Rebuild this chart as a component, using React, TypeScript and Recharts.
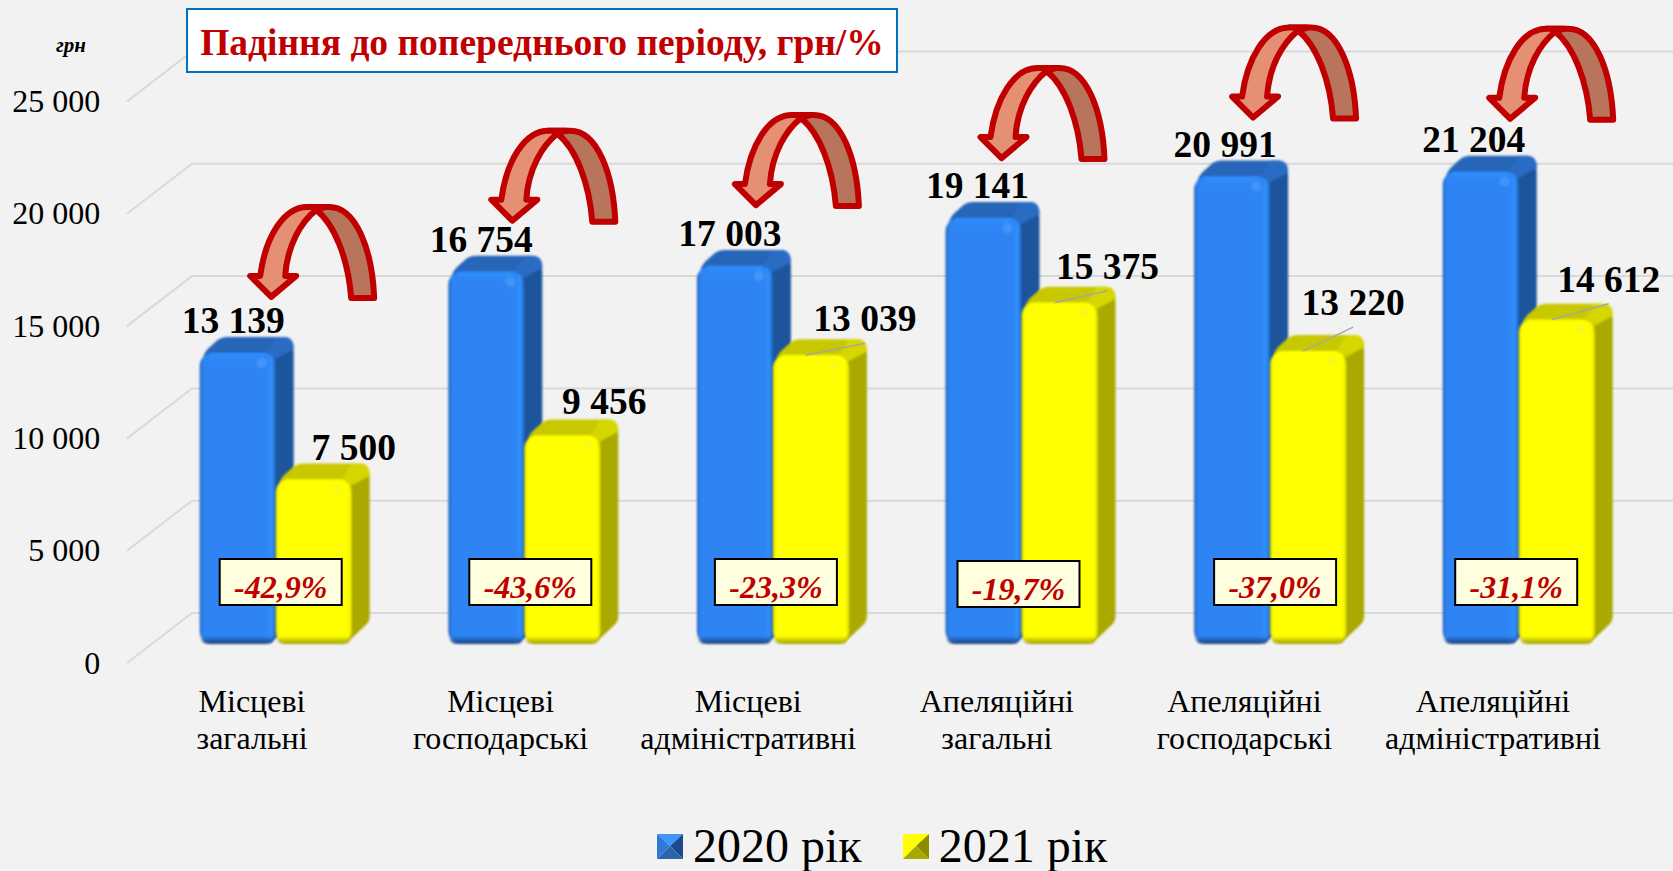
import { Bar, BarChart, CartesianGrid, LabelList, Legend, XAxis, YAxis } from 'recharts'

const CATEGORIES = [
  'Місцеві загальні',
  'Місцеві господарські',
  'Місцеві адміністративні',
  'Апеляційні загальні',
  'Апеляційні господарські',
  'Апеляційні адміністративні',
]
const VALUES_2020 = [13139, 16754, 17003, 19141, 20991, 21204]
const VALUES_2021 = [7500, 9456, 13039, 15375, 13220, 14612]
const DROP_LABELS = ['-42,9%', '-43,6%', '-23,3%', '-19,7%', '-37,0%', '-31,1%']
const Y_TICKS = [0, 5000, 10000, 15000, 20000, 25000]

// hand placement of the annotations, same order as CATEGORIES
const CATEGORY_NUDGE = [-24, -24, -25, -25, -26, -26]
const LABEL_NUDGE_2020 = [-4.5, -5, -5, -6, -7, -7]
const LABEL_NUDGE_2021 = [
  [40, 16],
  [42, 17.5],
  [54, 20],
  [48, 20],
  [45, 32],
  [52, 24],
]
const LEADER_2021 = [false, false, true, true, true, true]
const ARROW_NUDGE = [
  [33.5, 49],
  [26, 44],
  [21, 54],
  [18, 53],
  [21, 52],
  [29.5, 46],
]
const BOX_NUDGE = [
  [5, 85],
  [6, 85],
  [3, 85],
  [-3, 83],
  [5, 85],
  [-2.5, 85],
]

const FONT = '"Liberation Serif", "Times New Roman", serif'
const RED = '#c00000'
const DEPTH_X = 18
const DEPTH_Y = 16

const data = CATEGORIES.map((name, i) => ({ name, y2020: VALUES_2020[i], y2021: VALUES_2021[i] }))

const BLUE = { id: 'blue', top: '#2565b8', corner: '#2a6cc4', side: '#1c549c', edge: '#2263bc', main: '#2e84f3', light: '#3090ff', bottom: '#173f78', spot: '#5aa8ff' }
const YELLOW = { id: 'yellow', top: '#c8c800', corner: '#d6d600', side: '#a9a900', edge: '#e6e600', main: '#ffff00', light: '#ffff00', bottom: '#9c9c00', spot: '#f2f230' }

const fmt = (v: number) => String(v).replace(/\B(?=(\d{3})+$)/g, ' ')

function Box3D({ x, y, width, height, tone }: any) {
  const top = y + 4
  const bottom = y + height
  const right = x + width
  const backTop = top - DEPTH_Y
  const backRight = right + DEPTH_X
  const sidePath = `M${right - 6},${top + 6} L${backRight - 3},${backTop + 8} Q${backRight},${backTop + 10} ${backRight},${backTop + 16}
    L${backRight},${bottom - DEPTH_Y - 12} Q${backRight},${bottom - DEPTH_Y - 6} ${backRight - 5},${bottom - DEPTH_Y - 2} L${right - 6},${bottom} Z`
  const topPath = `M${x + 3},${top + 6} Q${x + 4},${top} ${x + 9},${top - 5} L${x + 18},${backTop + 3} Q${x + 22},${backTop} ${x + 28},${backTop}
    L${backRight - 10},${backTop} Q${backRight},${backTop} ${backRight},${backTop + 12} L${right - 4},${top + 8} Z`
  const cornerPath = `M${right - 10},${top} L${backRight - 18},${backTop} L${backRight - 10},${backTop} Q${backRight},${backTop} ${backRight},${backTop + 12} L${right - 4},${top + 8} Z`
  return (
    <g filter="url(#soft)">
      <path d={sidePath} fill={tone.side} />
      <path d={topPath} fill={tone.top} />
      <path d={cornerPath} fill={tone.corner} />
      <rect x={x} y={top} width={width} height={height - 4} rx={13} ry={13} fill={`url(#front-${tone.id})`} />
      <path
        d={`M${x},${bottom - 10} L${right},${bottom - 10} L${right},${bottom - 10} Q${right},${bottom} ${right - 10},${bottom} L${x + 10},${bottom} Q${x},${bottom} ${x},${bottom - 10} Z`}
        fill={`url(#base-${tone.id})`}
      />
      <rect x={x + 10} y={top} width={width - 20} height={9} fill={`url(#cap-${tone.id})`} />
      <circle cx={right - 14} cy={top + 10} r={5} fill={tone.spot} opacity={0.45} />
    </g>
  )
}

function toneDefs(tone: typeof BLUE) {
  return (
    <>
      <linearGradient id={`front-${tone.id}`} x1="0" y1="0" x2="1" y2="0">
        <stop offset="0" stopColor={tone.edge} />
        <stop offset="0.05" stopColor={tone.main} />
        <stop offset="0.88" stopColor={tone.main} />
        <stop offset="0.95" stopColor={tone.light} />
        <stop offset="1" stopColor={tone.edge} />
      </linearGradient>
      <linearGradient id={`base-${tone.id}`} x1="0" y1="0" x2="0" y2="1">
        <stop offset="0.2" stopColor={tone.bottom} stopOpacity="0" />
        <stop offset="1" stopColor={tone.bottom} />
      </linearGradient>
      <linearGradient id={`cap-${tone.id}`} x1="0" y1="0" x2="0" y2="1">
        <stop offset="0" stopColor={tone.light} />
        <stop offset="1" stopColor={tone.main} />
      </linearGradient>
    </>
  )
}

function GridLine({ y1, x2 }: any) {
  return (
    <g stroke="#d9d9d9" strokeWidth={2} fill="none">
      <path d={`M127,${y1 + 19} L192,${y1 - 31} L${x2 + 30},${y1 - 31}`} />
    </g>
  )
}

function ValueTick({ x, y, payload }: any) {
  return (
    <text x={x - 43.5} y={y + 29.5} textAnchor="end" fontFamily={FONT} fontSize={32} fill="#000">
      {fmt(payload.value)}
    </text>
  )
}

function CategoryTick({ x, y, payload, index }: any) {
  const lines = String(payload.value).split(' ')
  return (
    <text textAnchor="middle" fontFamily={FONT} fontSize={32} fill="#000">
      {lines.map((line, i) => (
        <tspan key={line} x={x + CATEGORY_NUDGE[index]} y={y + 60 + i * 36.5}>
          {line}
        </tspan>
      ))}
    </text>
  )
}

function Arrow({ x, y }: { x: number; y: number }) {
  return (
    <g transform={`translate(${x},${y})`} stroke={RED} strokeWidth={6} strokeLinejoin="round">
      <path d="M45,-90 C64,-75 77,-40 80,-2 L103,-2 C101,-50 85,-93 58,-93 L36,-93 Z" fill="#b9745c" />
      <path
        d="M-11,-24 C-6,-62 12,-93 36,-93 L54,-93 L45,-90 C30,-78 16,-55 14,-24 L25,-24 L0,-3 L-21,-24 Z"
        fill="#e58f74"
      />
    </g>
  )
}

function Labels2020(props: any) {
  const box = props.viewBox ?? props
  const { value, index } = props
  const cx = box.x + box.width / 2
  const [ax, ay] = ARROW_NUDGE[index]
  return (
    <g>
      <Arrow x={cx + ax} y={box.y - ay} />
      <text
        x={cx + LABEL_NUDGE_2020[index]}
        y={box.y - 16}
        textAnchor="middle"
        fontFamily={FONT}
        fontWeight="bold"
        fontSize={37.5}
        fill="#000"
      >
        {fmt(value)}
      </text>
    </g>
  )
}

function Labels2021(props: any) {
  const box = props.viewBox ?? props
  const { value, index } = props
  const cx = box.x + box.width / 2
  const [nx, ny] = LABEL_NUDGE_2021[index]
  const [bx, by] = BOX_NUDGE[index]
  const boxLeft = box.x + bx - 61
  const boxTop = box.y + box.height - by
  return (
    <g>
      {LEADER_2021[index] && (
        <line x1={cx - 5} y1={box.y + 4} x2={cx + nx} y2={box.y - ny + 12} stroke="#a6a6a6" strokeWidth={1.5} />
      )}
      <text
        x={cx + nx}
        y={box.y - ny}
        textAnchor="middle"
        fontFamily={FONT}
        fontWeight="bold"
        fontSize={37.5}
        fill="#000"
      >
        {fmt(value)}
      </text>
      <rect x={boxLeft} y={boxTop} width={122} height={46} fill="#ffffdf" stroke="#000" strokeWidth={2} />
      <text
        x={boxLeft + 61}
        y={boxTop + 39}
        textAnchor="middle"
        fontFamily={FONT}
        fontWeight="bold"
        fontStyle="italic"
        fontSize={32}
        fill={RED}
      >
        {DROP_LABELS[index]}
      </text>
    </g>
  )
}

function LegendIcon({ tone }: { tone: typeof BLUE }) {
  const dark = tone.id === 'blue'
  return (
    <svg width={26} height={25} style={{ display: 'block' }}>
      <polygon points="0,0 26,0 13,12" fill={dark ? '#4295fb' : '#ffff00'} />
      <polygon points="0,0 13,12 0,25" fill={dark ? '#2e78d8' : '#ffff00'} />
      <polygon points="26,0 26,25 13,12" fill={dark ? '#1a4b8c' : '#8c8c00'} />
      <polygon points="0,25 26,25 13,12" fill={dark ? '#2b64ad' : '#a8a800'} />
    </svg>
  )
}

function LegendRow({ payload }: any) {
  const tones = [BLUE, YELLOW]
  return (
    <div style={{ display: 'flex', alignItems: 'center', fontFamily: FONT, fontSize: 48, lineHeight: '56px', color: '#000' }}>
      {(payload ?? []).map((item: any, i: number) => (
        <div key={item.value} style={{ display: 'flex', alignItems: 'center', marginRight: 41 }}>
          <LegendIcon tone={tones[i]} />
          <span style={{ marginLeft: 10, whiteSpace: 'nowrap' }}>{item.value}</span>
        </div>
      ))}
    </div>
  )
}

export default function App() {
  return (
    <div style={{ position: 'absolute', left: 0, top: 0, width: 1673, height: 871, background: '#f2f2f2' }}>
      <BarChart
        width={1673}
        height={871}
        data={data}
        margin={{ top: 82.5, right: 29.7, bottom: 0, left: 51.7 }}
        barSize={76}
        barGap={0}
      >
        <defs>
          {toneDefs(BLUE)}
          {toneDefs(YELLOW)}
          <filter id="soft" x="-5%" y="-5%" width="110%" height="110%">
            <feGaussianBlur stdDeviation="0.8" />
          </filter>
        </defs>
        <CartesianGrid vertical={false} horizontal={(p: any) => <GridLine key={p.key} {...p} />} />
        <XAxis dataKey="name" interval={0} axisLine={false} tickLine={false} height={167} tick={CategoryTick} />
        <YAxis
          width={100}
          domain={[0, 25000]}
          ticks={Y_TICKS}
          interval={0}
          axisLine={false}
          tickLine={false}
          tick={ValueTick}
        />
        <Legend
          height={60}
          content={LegendRow}
          wrapperStyle={{ left: 657, bottom: -7, width: 520, height: 60 }}
        />
        <Bar
          dataKey="y2020"
          name="2020 рік"
          fill={BLUE.main}
          isAnimationActive={false}
          shape={(p: any) => <Box3D {...p} tone={BLUE} />}
        >
          <LabelList dataKey="y2020" content={Labels2020} />
        </Bar>
        <Bar
          dataKey="y2021"
          name="2021 рік"
          fill={YELLOW.main}
          isAnimationActive={false}
          shape={(p: any) => <Box3D {...p} tone={YELLOW} />}
        >
          <LabelList dataKey="y2021" content={Labels2021} />
        </Bar>
        <text x={71} y={52} textAnchor="middle" fontFamily={FONT} fontWeight="bold" fontStyle="italic" fontSize={21} fill="#000">
          грн
        </text>
        <rect x={187} y={9} width={710} height={63} fill="#fff" stroke="#0070c0" strokeWidth={2} />
        <text x={542} y={55} textAnchor="middle" fontFamily={FONT} fontWeight="bold" fontSize={37.5} fill={RED}>
          Падіння до попереднього періоду, грн/%
        </text>
      </BarChart>
    </div>
  )
}
